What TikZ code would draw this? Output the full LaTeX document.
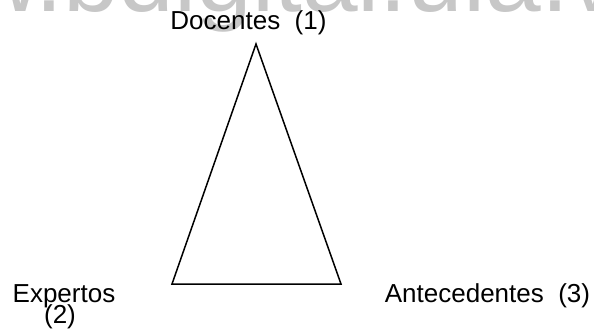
\documentclass[tikz,border=0pt]{standalone}
\usepackage{fontspec}
\setmainfont{Liberation Sans}
\begin{document}
\begin{tikzpicture}[x=1pt,y=-1pt,
  lbl/.style={inner sep=0pt,anchor=base,font=\fontsize{26}{21}\selectfont,text=black},
  wmark/.style={inner sep=0pt,anchor=base west,font=\fontsize{100}{100}\selectfont,text=black!22},
  edge/.style={draw=black,line width=1.5pt,line join=miter}]
\useasboundingbox (0,0) rectangle (594,330);
\fill[white] (0,0) rectangle (594,330);
\begin{scope}
\clip (0,0) rectangle (594,330);
\node[wmark] (wm) at (-176,11) {www.bdigital.ula.ve};
\end{scope}
\coordinate (top) at (256,44);
\coordinate (bl) at (172,284);
\coordinate (br) at (341,284);
\draw[edge] (top) -- (bl) -- (br) -- cycle;
\node[lbl] (doc) at (248.5,29) {Docentes\ \ (1)};
\node[lbl] (exp) at (64,302) {Expertos};
\node[lbl] (exp2) at (60,323) {(2)};
\node[lbl] (ant) at (487.5,302) {Antecedentes\ \ (3)};
\end{tikzpicture}
\end{document}
